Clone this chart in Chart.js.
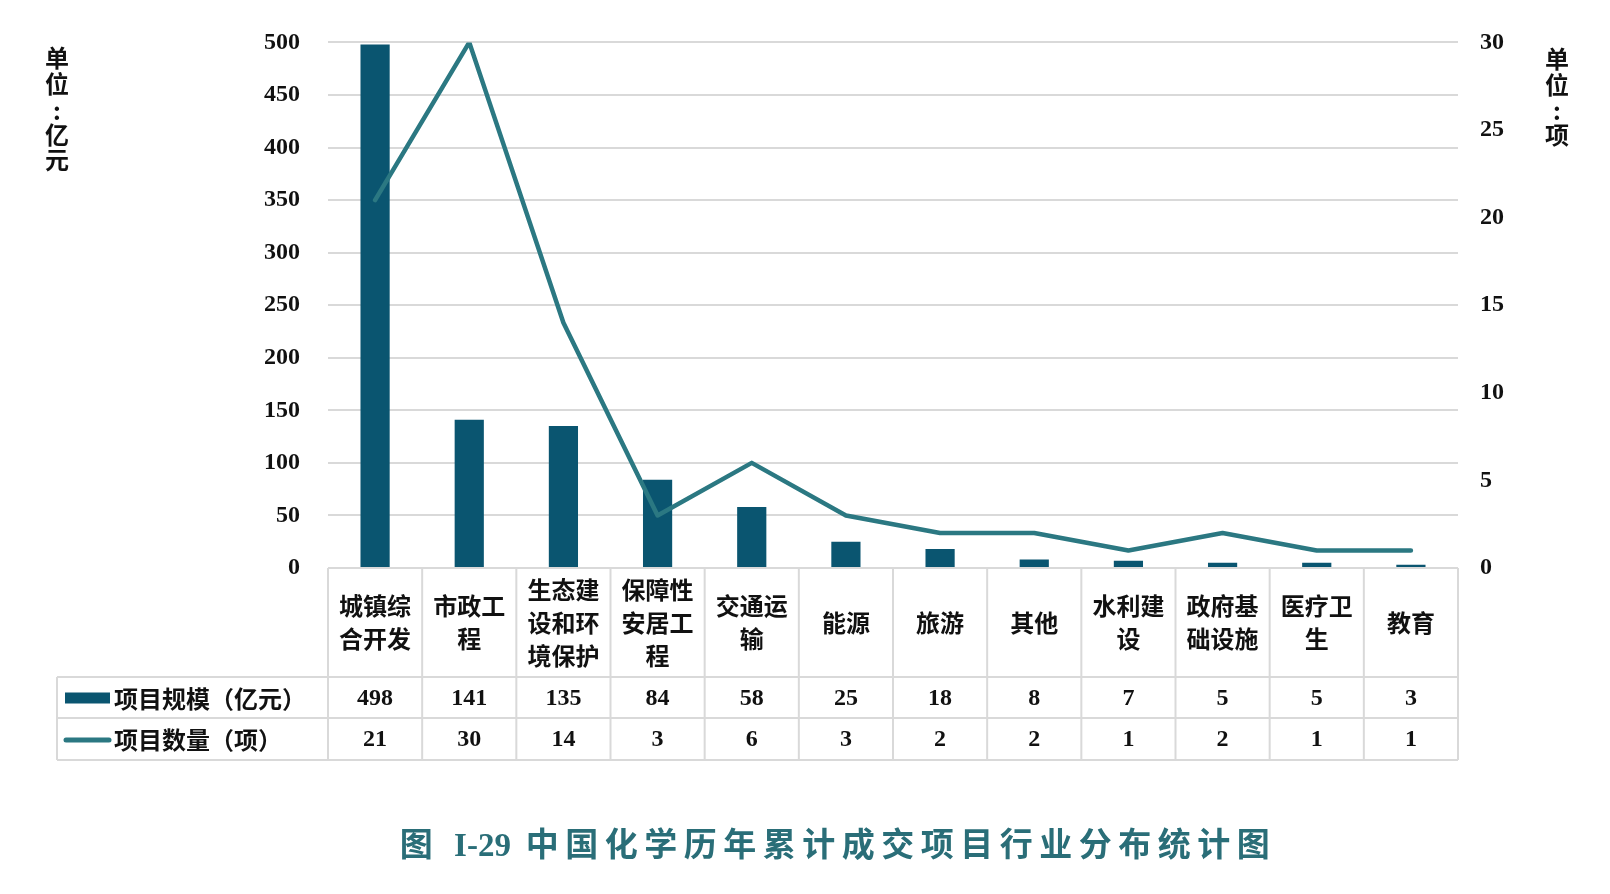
<!DOCTYPE html>
<html>
<head>
<meta charset="utf-8">
<script src="https://cdn.jsdelivr.net/npm/chart.js@4.4.1/dist/chart.umd.min.js"></script>
<style>
    html, body { margin: 0; background: #ffffff; }
</style>
</head>
<body>
<canvas id="industryChart" width="1610" height="894"></canvas>
<script>
const categories = [
    ["城镇综", "合开发"],
    ["市政工", "程"],
    ["生态建", "设和环", "境保护"],
    ["保障性", "安居工", "程"],
    ["交通运", "输"],
    ["能源"],
    ["旅游"],
    ["其他"],
    ["水利建", "设"],
    ["政府基", "础设施"],
    ["医疗卫", "生"],
    ["教育"],
];
const scaleValues = [498, 141, 135, 84, 58, 25, 18, 8, 7, 5, 5, 3];
const countValues = [21, 30, 14, 3, 6, 3, 2, 2, 1, 2, 1, 1];
const leftTicks = [0, 50, 100, 150, 200, 250, 300, 350, 400, 450, 500];
const rightTicks = [0, 5, 10, 15, 20, 25, 30];
const scaleLabel = "项目规模（亿元）";
const countLabel = "项目数量（项）";
const leftUnit = ["单", "位", ":", "亿", "元"];
const rightUnit = ["单", "位", ":", "项"];
const titleParts = ["图 ", "I-29", " 中国化学历年累计成交项目行业分布统计图"];

const barColor = "#0a5570";
const lineColor = "#2b7882";
const numFont = "bold 24px 'Liberation Serif', 'Noto Sans CJK SC'";
const cjkFont = "bold 24px 'Noto Sans CJK SC'";

// table under the plot, legend cells and unit labels
const tablePlugin = {
    id: "dataTable",
    afterDraw(chart) {
        const ctx = chart.ctx;
        const xScale = chart.scales.x;
        const area = chart.chartArea;
        const colW = (area.right - area.left) / categories.length;
        const rows = [area.bottom, area.bottom + 109, area.bottom + 150, area.bottom + 192];
        const tableLeft = 57;

        ctx.save();
        ctx.strokeStyle = "#d9d9d9";
        ctx.lineWidth = 2;
        ctx.beginPath();
        ctx.moveTo(area.left, rows[0]);
        ctx.lineTo(area.right, rows[0]);
        for (let r = 1; r < rows.length; r++) {
            ctx.moveTo(tableLeft, rows[r]);
            ctx.lineTo(area.right, rows[r]);
        }
        for (let i = 0; i <= categories.length; i++) {
            const x = area.left + i * colW;
            ctx.moveTo(x, rows[0]);
            ctx.lineTo(x, rows[3]);
        }
        ctx.moveTo(tableLeft, rows[1]);
        ctx.lineTo(tableLeft, rows[3]);
        ctx.stroke();

        ctx.fillStyle = "#111111";
        ctx.textAlign = "center";
        ctx.textBaseline = "middle";

        // category names
        ctx.font = cjkFont;
        const catMid = (rows[0] + rows[1]) / 2;
        categories.forEach((lines, i) => {
            const cx = xScale.getPixelForValue(i);
            const start = catMid - ((lines.length - 1) * 33) / 2;
            lines.forEach((t, j) => ctx.fillText(t, cx, start + j * 33));
        });

        // values
        ctx.font = numFont;
        const row2 = (rows[1] + rows[2]) / 2 + 1;
        const row3 = (rows[2] + rows[3]) / 2 + 1;
        scaleValues.forEach((v, i) => ctx.fillText(String(v), xScale.getPixelForValue(i), row2));
        countValues.forEach((v, i) => ctx.fillText(String(v), xScale.getPixelForValue(i), row3));

        // legend cells
        ctx.fillStyle = barColor;
        ctx.fillRect(65, row2 - 6, 45, 11);
        ctx.strokeStyle = lineColor;
        ctx.lineWidth = 5;
        ctx.lineCap = "round";
        ctx.beginPath();
        ctx.moveTo(66, row3);
        ctx.lineTo(109, row3);
        ctx.stroke();
        ctx.fillStyle = "#111111";
        ctx.textAlign = "left";
        ctx.font = cjkFont;
        ctx.fillText(scaleLabel, 114, row2);
        ctx.fillText(countLabel, 114, row3);

        // unit labels, stacked vertically
        ctx.textAlign = "center";
        const leftY = [58, 84, 111, 135, 160];
        leftUnit.forEach((c, i) => ctx.fillText(c, 57, leftY[i]));
        const rightY = [59, 85, 111, 135];
        rightUnit.forEach((c, i) => ctx.fillText(c, 1557, rightY[i]));

        // caption: the latin part is kept tight, the chinese part is spaced out
        ctx.fillStyle = "#2a6e78";
        ctx.textAlign = "left";
        ctx.font = "bold 33px 'Liberation Serif', 'Noto Sans CJK SC'";
        const spacing = ["6.5px", "0px", "6.5px"];
        const widths = titleParts.map((t, i) => {
            ctx.letterSpacing = spacing[i];
            return ctx.measureText(t).width;
        });
        let tx = 838 - widths.reduce((a, b) => a + b, 0) / 2;
        titleParts.forEach((t, i) => {
            ctx.letterSpacing = spacing[i];
            ctx.fillText(t, tx, 847);
            tx += widths[i];
        });
        ctx.restore();
    },
};

new Chart(document.getElementById("industryChart"), {
    type: "bar",
    data: {
        labels: categories.map((c) => c.join("")),
        datasets: [
            {
                type: "line",
                label: countLabel,
                data: countValues,
                yAxisID: "y1",
                borderColor: lineColor,
                borderWidth: 4.5,
                borderCapStyle: "round",
                borderJoinStyle: "round",
                pointRadius: 0,
                tension: 0,
                fill: false,
                order: 0,
            },
            {
                type: "bar",
                label: scaleLabel,
                data: scaleValues,
                yAxisID: "y",
                backgroundColor: barColor,
                barPercentage: 0.31,
                categoryPercentage: 1,
                order: 1,
            },
        ],
    },
    options: {
        responsive: false,
        animation: false,
        layout: {
            padding: { top: 37, left: 0, right: 0, bottom: 0 },
        },
        plugins: {
            legend: { display: false },
            tooltip: { enabled: false },
        },
        scales: {
            x: {
                grid: { display: false },
                border: { display: false },
                ticks: { display: false },
                afterFit(scale) {
                    scale.height = 326;
                },
            },
            y: {
                position: "left",
                min: 0,
                max: 500,
                afterBuildTicks(scale) {
                    scale.ticks = leftTicks.map((v) => ({ value: v }));
                },
                afterFit(scale) {
                    scale.width = 328;
                },
                grid: { color: "#d9d9d9", lineWidth: 2, drawTicks: false },
                border: { display: false },
                ticks: {
                    padding: 28,
                    color: "#111111",
                    font: { family: "'Liberation Serif'", size: 24, weight: "bold" },
                },
            },
            y1: {
                position: "right",
                min: 0,
                max: 30,
                afterBuildTicks(scale) {
                    scale.ticks = rightTicks.map((v) => ({ value: v }));
                },
                afterFit(scale) {
                    scale.width = 152;
                },
                grid: { drawOnChartArea: false, drawTicks: false },
                border: { display: false },
                ticks: {
                    padding: 22,
                    color: "#111111",
                    font: { family: "'Liberation Serif'", size: 24, weight: "bold" },
                },
            },
        },
    },
    plugins: [tablePlugin],
});
</script>
</body>
</html>
